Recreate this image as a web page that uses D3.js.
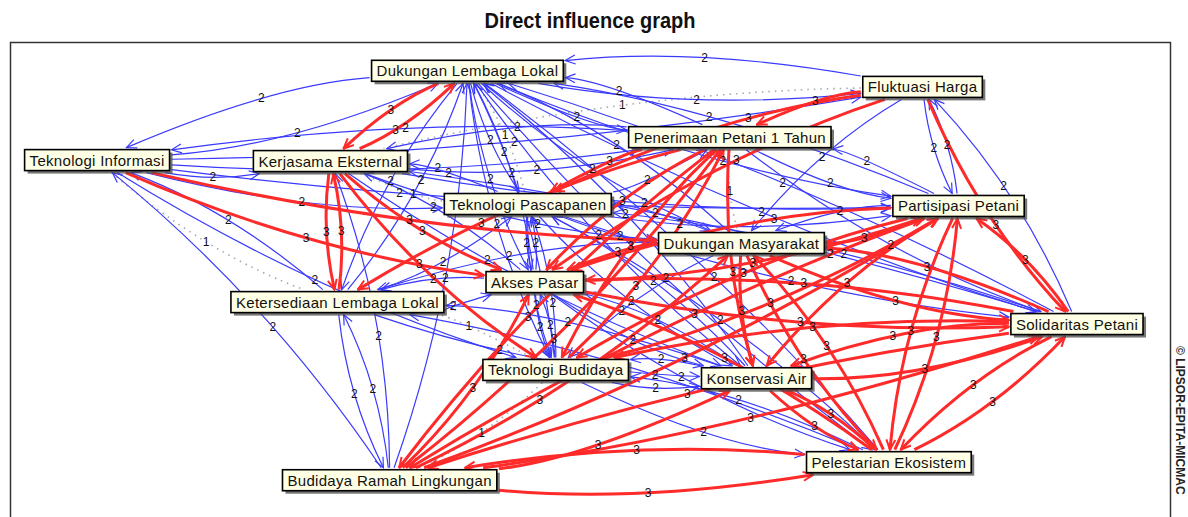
<!DOCTYPE html>
<html>
<head>
<meta charset="utf-8">
<script src="https://cdn.jsdelivr.net/npm/d3@7"></script>
<style>
  body { margin: 0; background: #fff; }
  svg { display: block; font-family: Arial, "Liberation Sans", sans-serif; }
</style>
</head>
<body>
<svg id="chart" width="1188" height="517"></svg>
<script>
// variables of the MICMAC direct influence graph
const NODE_IDS = ["DLL", "FH", "TI", "KE", "PP1", "TP", "PartP", "DM", "AP", "KLL", "SP", "TB", "KA", "PE", "BRL"];
const NODE_NAMES = [
  "Dukungan Lembaga Lokal", "Fluktuasi Harga", "Teknologi Informasi", "Kerjasama Eksternal",
  "Penerimaan Petani 1 Tahun", "Teknologi Pascapanen", "Partisipasi Petani", "Dukungan Masyarakat",
  "Akses Pasar", "Ketersediaan Lembaga Lokal", "Solidaritas Petani", "Teknologi Budidaya",
  "Konservasi Air", "Pelestarian Ekosistem", "Budidaya Ramah Lingkungan"
];
// layout position of each variable, in percent of the frame
const NODE_COL = [39.4, 78.6, 7.5, 27.6, 62.0, 44.6, 81.7, 63.0, 45.2, 28.2, 91.9, 47.0, 64.3, 75.7, 32.7];
const NODE_ROW = [5.9, 9.2, 24.2, 24.4, 19.5, 33.2, 33.6, 41.2, 49.2, 53.3, 57.8, 67.2, 68.9, 86.1, 89.8];

// influences: [from, to, value]  (1 = weak, 2 = moderate, 3 = strong)
const STRONG_LINKS = [
  ["KE","DLL",3],["DLL","KE",3],["TI","AP",3],["TI","DM",3],["KE","KLL",3],["KLL","KE",3],
  ["KE","AP",3],["KE","TB",3],["FH","PP1",3],["FH","TP",3],["FH","AP",3],["FH","SP",3],
  ["PP1","TP",3],["PP1","AP",3],["PP1","TB",3],["PP1","KLL",3],["PP1","BRL",3],["PP1","KA",3],
  ["DM","PartP",3],["DM","SP",3],["DM","KA",3],["DM","PE",3],["DM","AP",3],
  ["AP","SP",3],["AP","PartP",3],
  ["PartP","KA",3],["PartP","PE",3],["PartP","BRL",3],["PartP","TB",3],["PartP","AP",3],
  ["SP","PartP",3],["SP","KA",3],["SP","PE",3],["SP","BRL",3],["SP","AP",3],["SP","DM",3],["SP","TB",3],
  ["BRL","PE",3],["PE","BRL",3],["BRL","AP",3],["BRL","DM",3],["BRL","KA",3],["BRL","SP",3],
  ["BRL","PP1",3],["BRL","PartP",3],
  ["PE","KA",3],["PE","DM",3],["PE","PartP",3],["PE","SP",3],["PE","AP",3],
  ["KA","PE",3],["KA","SP",3],["TB","PartP",3],["TB","PP1",3]
];
const MODERATE_LINKS = [
  ["TI","DLL",2],["TI","KE",2],["TI","PP1",2],["TI","FH",2],["TI","TP",2],["TI","TB",2],["TI","PartP",2],
  ["BRL","TI",2],["BRL","KLL",2],["KLL","BRL",2],["BRL","DLL",2],["BRL","KE",2],
  ["DLL","TP",2],["DLL","AP",2],["DLL","TB",2],["DLL","KA",2],["DLL","DM",2],["DLL","PP1",2],
  ["DLL","PartP",2],["DLL","KLL",2],["DLL","TI",2],["DLL","FH",2],["DLL","SP",2],["DLL","PE",2],
  ["FH","DLL",2],["PP1","DLL",2],["FH","PartP",2],["PartP","FH",2],["SP","FH",2],["FH","DM",2],
  ["PP1","KE",2],["PP1","TI",2],["PP1","PartP",2],["PP1","SP",2],
  ["KE","PP1",2],["KE","DM",2],["KE","KA",2],["KE","PartP",2],
  ["TP","KE",2],["TP","DM",2],["TP","PartP",2],["TP","KA",2],["TP","TB",2],["TP","AP",2],["TP","PP1",2],["TP","SP",2],
  ["AP","DLL",2],["AP","KE",2],["AP","KLL",2],["AP","TB",2],["AP","KA",2],["AP","PE",2],["AP","TP",2],
  ["KLL","AP",2],["KLL","DLL",2],["KLL","TP",2],["KLL","KA",2],["KLL","TI",2],
  ["TB","AP",2],["TB","DLL",2],["TB","KA",2],["TB","PE",2],["TB","TP",2],
  ["KA","TB",2],["KA","AP",2],["KA","KLL",2],["KA","DLL",2],["KA","TP",2],
  ["DM","TB",2],["DM","TP",2],["DM","DLL",2],["DM","KLL",2],
  ["PE","TB",2],["PE","KLL",2],["PE","TP",2],["PE","DLL",2],
  ["PartP","DM",2],["PartP","PP1",2],["PartP","DLL",2],
  ["SP","TP",2],["SP","DLL",2],["SP","KE",2]
];
const WEAK_LINKS = [
  ["TI","KLL",1],["FH","KE",1],["KE","TP",1],["BRL","TB",1],["TP","DLL",1],["PP1","DM",1],["TB","KLL",1]
];

const COLORS = { 1: "#a8a8a8", 2: "#3a3aff", 3: "#ff2a2a" };
const WIDTHS = { 1: 1.6, 2: 1.2, 3: 3 };

const svg = d3.select("#chart");
const x = d3.scaleLinear().domain([0, 100]).range([10, 1171]);
const y = d3.scaleLinear().domain([0, 100]).range([42, 530]);

svg.append("text")
  .attr("transform", "translate(590,28) scale(1,1.12)")
  .attr("text-anchor", "middle")
  .attr("font-size", 20).attr("font-weight", "bold")
  .attr("fill", "#111")
  .text("Direct influence graph");

svg.append("rect")
  .attr("x", 10.5).attr("y", 42.5)
  .attr("width", 1160).attr("height", 520)
  .attr("fill", "#fff").attr("stroke", "#333").attr("stroke-width", 1.5);

svg.append("text")
  .attr("transform", "translate(1176,346) rotate(90)")
  .attr("font-size", 12).attr("font-weight", "bold").attr("fill", "#222")
  .text("\u00a9 LIPSOR-EPITA-MICMAC");

// arrow markers, one per colour
const defs = svg.append("defs");
[1, 2, 3].forEach((v) => {
  defs.append("marker")
    .attr("id", "arrow-" + v)
    .attr("viewBox", "-1 -6 12 12")
    .attr("refX", 10).attr("refY", 0)
    .attr("markerWidth", 12).attr("markerHeight", 12)
    .attr("markerUnits", "userSpaceOnUse")
    .attr("orient", "auto")
    .append("path")
    .attr("d", "M0,-4.5L10,0L0,4.5")
    .attr("fill", "none")
    .attr("stroke", COLORS[v])
    .attr("stroke-width", v === 3 ? 2 : 1.2);
});

const edgeLayer = svg.append("g");
const labelLayer = svg.append("g");
const nodeLayer = svg.append("g");

// nodes first, so box sizes can be measured
const nodes = {};
NODE_IDS.forEach((id, i) => {
  const g = nodeLayer.append("g")
    .attr("transform", `translate(${x(NODE_COL[i])},${y(NODE_ROW[i])})`);
  const shadow = g.append("rect").attr("fill", "#4a4a4a").attr("opacity", 0.75);
  const box = g.append("rect").attr("fill", "#ffffe6").attr("stroke", "#000").attr("stroke-width", 1.6);
  const label = g.append("text")
    .attr("text-anchor", "middle")
    .attr("dy", 5.5)
    .attr("font-size", 15)
    .attr("letter-spacing", 0.3)
    .attr("fill", "#111")
    .text(NODE_NAMES[i]);
  const w = label.node().getComputedTextLength() + 10;
  const h = 21;
  box.attr("x", -w / 2).attr("y", -h / 2).attr("width", w).attr("height", h);
  shadow.attr("x", -w / 2 + 3).attr("y", -h / 2 + 3).attr("width", w).attr("height", h);
  nodes[id] = { x: x(NODE_COL[i]), y: y(NODE_ROW[i]), w, h };
});
const nodeList = Object.values(nodes);
const placed = [];

function clip(n, dx, dy) {
  const sx = Math.abs(dx) > 1e-6 ? (n.w / 2 + 2) / Math.abs(dx) : Infinity;
  const sy = Math.abs(dy) > 1e-6 ? (n.h / 2 + 2) / Math.abs(dy) : Infinity;
  const s = Math.min(sx, sy);
  return [n.x + dx * s, n.y + dy * s];
}

function blocked(px, py) {
  const inBox = nodeList.some((n) =>
    Math.abs(px - n.x) < n.w / 2 + 6 && Math.abs(py - n.y) < n.h / 2 + 8);
  const hitsLabel = placed.some((p) => Math.abs(px - p[0]) < 8 && Math.abs(py - p[1]) < 12);
  return inBox || hitsLabel;
}

const links = WEAK_LINKS.concat(MODERATE_LINKS, STRONG_LINKS).map(([a, b, v]) => {
  const s = nodes[a], t = nodes[b];
  const dx = t.x - s.x, dy = t.y - s.y;
  const L = Math.hypot(dx, dy);
  const k = Math.min(0.09 * L, 32);
  const cx = (s.x + t.x) / 2 - (dy / L) * k;
  const cy = (s.y + t.y) / 2 + (dx / L) * k;
  const p0 = clip(s, cx - s.x, cy - s.y);
  const p2 = clip(t, cx - t.x, cy - t.y);
  const at = (u) => [
    (1 - u) * (1 - u) * p0[0] + 2 * u * (1 - u) * cx + u * u * p2[0],
    (1 - u) * (1 - u) * p0[1] + 2 * u * (1 - u) * cy + u * u * p2[1]
  ];
  // label near the middle, but not under a box or on another label
  let lp = at(0.5);
  for (const u of [0.5, 0.44, 0.56, 0.38, 0.62, 0.32, 0.68, 0.26, 0.74, 0.2, 0.8]) {
    const p = at(u);
    if (!blocked(p[0], p[1])) { lp = p; break; }
  }
  placed.push(lp);
  return { v, p0, c: [cx, cy], p2, lx: lp[0], ly: lp[1] };
});

edgeLayer.selectAll("path")
  .data(links)
  .enter()
  .append("path")
  .attr("d", (d) => `M${d.p0[0]},${d.p0[1]}Q${d.c[0]},${d.c[1]} ${d.p2[0]},${d.p2[1]}`)
  .attr("fill", "none")
  .attr("stroke", (d) => COLORS[d.v])
  .attr("stroke-width", (d) => WIDTHS[d.v])
  .attr("stroke-dasharray", (d) => (d.v === 1 ? "1.5,5" : null))
  .attr("marker-end", (d) => (d.v === 1 ? null : `url(#arrow-${d.v})`));

labelLayer.selectAll("text")
  .data(links)
  .enter()
  .append("text")
  .attr("x", (d) => d.lx)
  .attr("y", (d) => d.ly + 4)
  .attr("text-anchor", "middle")
  .attr("font-size", 12)
  .attr("fill", "#111")
  .text((d) => d.v);
</script>
</body>
</html>
